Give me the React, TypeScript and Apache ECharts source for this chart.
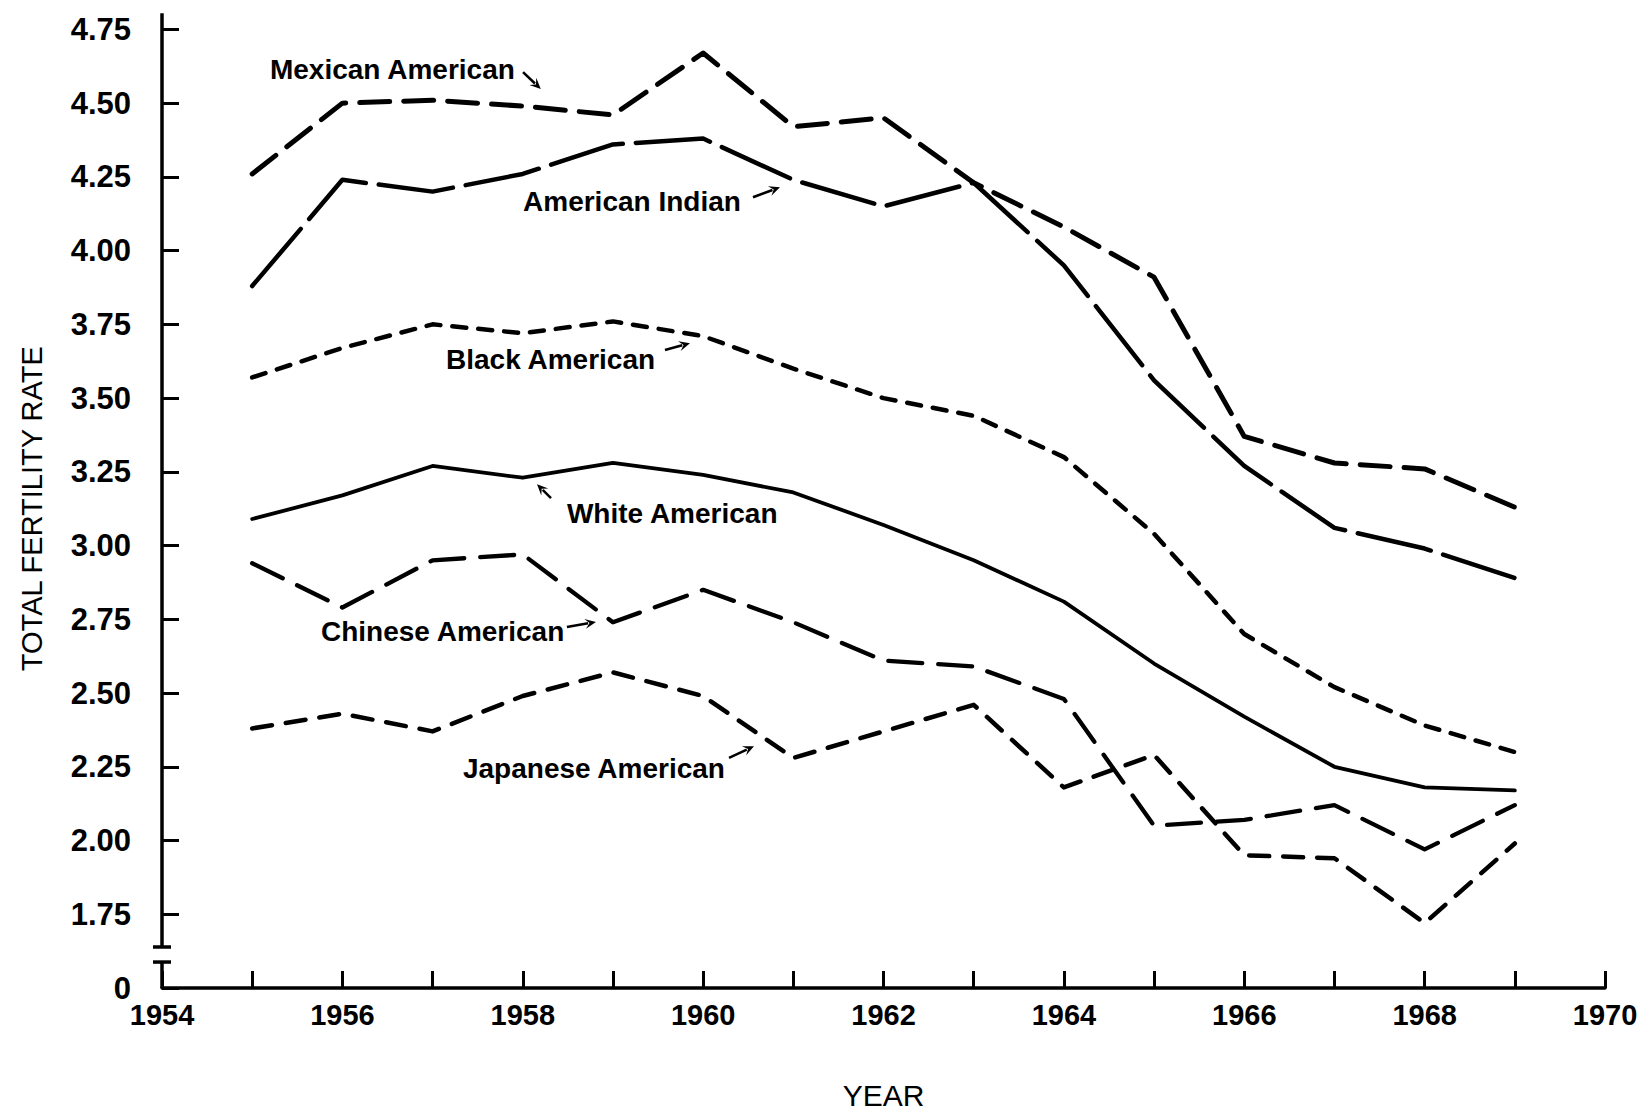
import React, { useEffect, useRef } from 'react';
import * as echarts from 'echarts';

// ---------- data ----------
const years = [1955, 1956, 1957, 1958, 1959, 1960, 1961, 1962, 1963, 1964, 1965, 1966, 1967, 1968, 1969];

const mexicanAmerican = [4.26, 4.50, 4.51, 4.49, 4.46, 4.67, 4.42, 4.45, 4.23, 4.08, 3.91, 3.37, 3.28, 3.26, 3.13];
const americanIndian = [3.88, 4.24, 4.20, 4.26, 4.36, 4.38, 4.24, 4.15, 4.23, 3.95, 3.56, 3.27, 3.06, 2.99, 2.89];
const blackAmerican = [3.57, 3.67, 3.75, 3.72, 3.76, 3.71, 3.60, 3.50, 3.44, 3.30, 3.04, 2.70, 2.52, 2.39, 2.30];
const whiteAmerican = [3.09, 3.17, 3.27, 3.23, 3.28, 3.24, 3.18, 3.07, 2.95, 2.81, 2.60, 2.42, 2.25, 2.18, 2.17];
const chineseAmerican = [2.94, 2.79, 2.95, 2.97, 2.74, 2.85, 2.74, 2.61, 2.59, 2.48, 2.05, 2.07, 2.12, 1.97, 2.12];
const japaneseAmerican = [2.38, 2.43, 2.37, 2.49, 2.57, 2.49, 2.28, 2.37, 2.46, 2.18, 2.29, 1.95, 1.94, 1.72, 1.99];

// axis: x ticks every year, labels every two years; y axis broken between 0 and 1.75
const xLabelYears = [1954, 1956, 1958, 1960, 1962, 1964, 1966, 1968, 1970];
const yBreakValue = 1.5; // position where the "0" label sits below the break
const yBreakLabel = '0';

// ---------- layout (annotation anchors, in data coordinates) ----------
const labelAnchors = [
  { text: 'Mexican American', x: 1955.197, y: 4.615, from: [1958.003, 4.605], to: [1958.2, 4.548] },
  { text: 'American Indian', x: 1958.003, y: 4.167, from: [1960.553, 4.181], to: [1960.852, 4.215] },
  { text: 'Black American', x: 1957.149, y: 3.632, from: [1959.577, 3.663], to: [1959.854, 3.686] },
  { text: 'White American', x: 1958.49, y: 3.11, from: [1958.313, 3.161], to: [1958.158, 3.208] },
  { text: 'Chinese American', x: 1955.763, y: 2.71, from: [1958.49, 2.724], to: [1958.812, 2.741] },
  { text: 'Japanese American', x: 1957.337, y: 2.245, from: [1960.287, 2.28], to: [1960.564, 2.32] },
];
const yAxisTopValue = 4.805;
const breakUpperValue = 1.639;
const breakLowerValue = 1.588;

const FONT = "'Liberation Sans', Arial, Helvetica, sans-serif";

function makeSeries(name: string, values: number[], width: number, dash: number[] | 'solid') {
  return {
    name,
    type: 'line',
    data: years.map((yr, i) => [yr, values[i]]),
    symbol: 'none',
    silent: true,
    clip: false,
    lineStyle: { color: '#000', width, type: dash, cap: 'round', join: 'round' },
  };
}

export default function App() {
  const ref = useRef<HTMLDivElement>(null);

  useEffect(() => {
    if (!ref.current) return;
    const chart = echarts.init(ref.current, null, { renderer: 'svg' });
    const option: any = {
      animation: false,
      backgroundColor: '#fff',
      grid: { left: 162, right: 43, top: 29.4, bottom: 123, containLabel: false, outerBoundsMode: 'none' },
      xAxis: {
        type: 'value',
        min: 1954,
        max: 1970,
        interval: 1,
        axisLine: { show: true, onZero: false, lineStyle: { color: '#000', width: 3.5 } },
        axisTick: { show: true, inside: true, length: 17, lineStyle: { color: '#000', width: 3 } },
        axisLabel: {
          formatter: (v: number) => (xLabelYears.includes(Math.round(v)) ? String(Math.round(v)) : ''),
          color: '#000',
          fontSize: 29,
          fontWeight: 'bold',
          fontFamily: FONT,
          margin: 12,
        },
        splitLine: { show: false },
        name: 'YEAR',
        nameLocation: 'middle',
        nameGap: 92,
        nameTextStyle: { color: '#000', fontSize: 30, fontFamily: FONT },
      },
      yAxis: {
        type: 'value',
        min: yBreakValue,
        max: 4.75,
        interval: 0.25,
        axisLine: { show: false },
        axisTick: { show: true, inside: true, length: 17, lineStyle: { color: '#000', width: 3 } },
        axisLabel: {
          formatter: (v: number) => (Math.abs(v - yBreakValue) < 1e-6 ? yBreakLabel : v.toFixed(2)),
          color: '#000',
          fontSize: 31,
          fontWeight: 'bold',
          fontFamily: FONT,
          margin: 31,
        },
        splitLine: { show: false },
        name: 'TOTAL FERTILITY RATE',
        nameLocation: 'middle',
        nameRotate: 90,
        nameGap: 116,
        nameTextStyle: { color: '#000', fontSize: 29, fontFamily: FONT },
      },
      series: [
        makeSeries('Mexican American', mexicanAmerican, 5, [30, 14]),
        makeSeries('American Indian', americanIndian, 4.5, [75, 13]),
        makeSeries('Black American', blackAmerican, 4.5, [14, 12]),
        makeSeries('White American', whiteAmerican, 3.8, 'solid'),
        makeSeries('Chinese American', chineseAmerican, 4.3, [34, 16]),
        makeSeries('Japanese American', japaneseAmerican, 4.5, [20, 14]),
      ],
    };
    chart.setOption(option);

    const px = (x: number, y: number) => chart.convertToPixel({ gridIndex: 0 }, [x, y]) as number[];
    const g: any[] = [];
    const axisStroke = { stroke: '#000', lineWidth: 3.5, lineCap: 'butt' };

    // broken y axis
    const top = px(1954, yAxisTopValue);
    const up = px(1954, breakUpperValue);
    const lo = px(1954, breakLowerValue);
    const origin = px(1954, yBreakValue);
    g.push({ type: 'line', shape: { x1: top[0], y1: top[1], x2: up[0], y2: up[1] }, style: axisStroke });
    g.push({ type: 'line', shape: { x1: up[0] - 9, y1: up[1], x2: up[0] + 9, y2: up[1] }, style: axisStroke });
    g.push({ type: 'line', shape: { x1: lo[0] - 9, y1: lo[1], x2: lo[0] + 9, y2: lo[1] }, style: axisStroke });
    g.push({ type: 'line', shape: { x1: lo[0], y1: lo[1], x2: origin[0], y2: origin[1] }, style: axisStroke });

    // annotations with arrows
    labelAnchors.forEach((a) => {
      const p = px(a.x, a.y);
      g.push({
        type: 'text',
        x: p[0],
        y: p[1],
        style: {
          text: a.text,
          font: `bold 28px ${FONT}`,
          fill: '#000',
          align: 'left',
          verticalAlign: 'middle',
          textAlign: 'left',
          textVerticalAlign: 'middle',
        },
      });
      const s = px(a.from[0], a.from[1]);
      const e = px(a.to[0], a.to[1]);
      const dx = e[0] - s[0];
      const dy = e[1] - s[1];
      const len = Math.sqrt(dx * dx + dy * dy) || 1;
      const ux = dx / len;
      const uy = dy / len;
      const L = 11;
      const W = 5;
      const bx = e[0] - ux * L;
      const by = e[1] - uy * L;
      g.push({
        type: 'line',
        shape: { x1: s[0], y1: s[1], x2: bx + ux * 3, y2: by + uy * 3 },
        style: { stroke: '#000', lineWidth: 2.5 },
      });
      g.push({
        type: 'polygon',
        shape: {
          points: [
            [e[0], e[1]],
            [bx - uy * W, by + ux * W],
            [e[0] - ux * L * 0.6, e[1] - uy * L * 0.6],
            [bx + uy * W, by - ux * W],
          ],
        },
        style: { fill: '#000' },
      });
    });

    chart.setOption({ graphic: g });
    return () => chart.dispose();
  }, []);

  return (
    <div
      ref={ref}
      style={{ position: 'absolute', left: 0, top: 0, width: 1648, height: 1111, background: '#fff' }}
    />
  );
}
